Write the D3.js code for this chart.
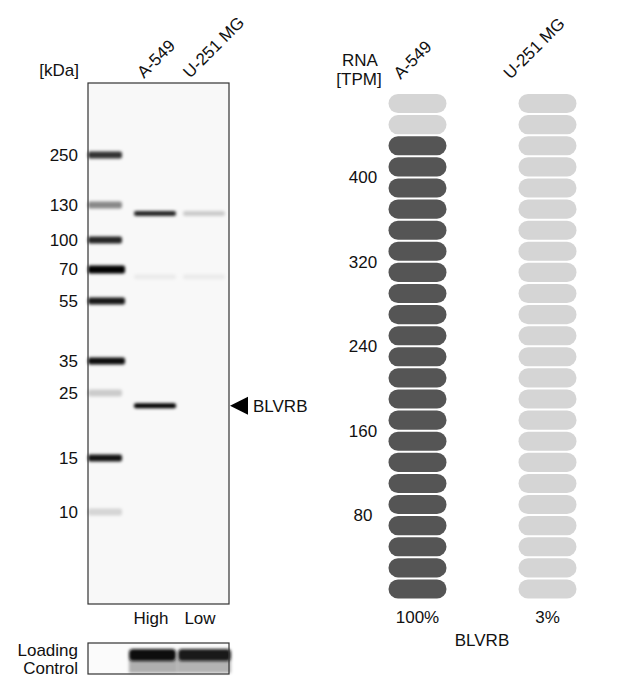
<!DOCTYPE html>
<html><head><meta charset="utf-8">
<script src="https://cdn.jsdelivr.net/npm/d3@7"></script>
<style>
html,body{margin:0;padding:0;background:#fff;}
text{font-family:Arial,"Liberation Sans",sans-serif;fill:#111;}
</style></head>
<body>
<svg id="c" width="640" height="679"></svg>
<script>
// ---------- data ----------
const markerKDa = [250, 130, 100, 70, 55, 35, 25, 15, 10];
const markerIntensity = [0.8, 0.45, 0.85, 1.0, 0.9, 0.95, 0.18, 0.92, 0.14];
const gelLanes = ["ladder", "A-549", "U-251 MG"];
const laneLevels = ["High", "Low"];
const a549BandKDa = [122, 22.6, 66];
const a549BandIntensity = [0.85, 1.0, 0.05];
const u251BandKDa = [122, 66];
const u251BandIntensity = [0.18, 0.05];
const loadingIntensity = [1.0, 0.95];
const targetName = "BLVRB";
const targetKDa = 22.6;

const cellLines = ["A-549", "U-251 MG"];
const rnaTPM = [445, 13];
const rnaPercent = ["100%", "3%"];
const rnaTicks = [80, 160, 240, 320, 400];
const rnaMax = 480;
const pillStep = 20;

// ---------- setup ----------
const svg = d3.select("#c");
const defs = svg.append("defs");
defs.append("filter").attr("id","blur").attr("x","-20%").attr("y","-100%").attr("width","140%").attr("height","300%")
  .append("feGaussianBlur").attr("stdDeviation","1.4");
defs.append("filter").attr("id","blur2").attr("x","-20%").attr("y","-100%").attr("width","140%").attr("height","300%")
  .append("feGaussianBlur").attr("stdDeviation","1.8");

const FS = 17;

// ---------- western blot ----------
const gel = {x0:88, x1:229, y0:83, y1:604};
const yK = d3.scaleLog().domain(markerKDa).range([155,205,240,269,301,361,393,458,512]);
const xLane = d3.scalePoint().domain(gelLanes).range([106, 204]);

svg.append("rect").attr("x",gel.x0).attr("y",gel.y0).attr("width",gel.x1-gel.x0).attr("height",gel.y1-gel.y0)
  .attr("fill","#f8f8f8");

const bandG = svg.append("g").attr("filter","url(#blur)");
// ladder
bandG.selectAll("rect.m").data(markerKDa).join("rect")
  .attr("x", xLane("ladder")-18).attr("width", d => 34 + (d>=35&&d<=70?3:0))
  .attr("y", d => yK(d)-3.5).attr("height", (d,i)=> markerIntensity[i]>0.95?8:7)
  .attr("rx",2)
  .attr("fill","#000").attr("fill-opacity",(d,i)=>markerIntensity[i]);
// sample lanes
const sampleBands = [
  ...a549BandKDa.map((k,i)=>({lane:"A-549", k, v:a549BandIntensity[i]})),
  ...u251BandKDa.map((k,i)=>({lane:"U-251 MG", k, v:u251BandIntensity[i]}))
];
bandG.selectAll("rect.s").data(sampleBands).join("rect")
  .attr("x", d => xLane(d.lane)-21).attr("width", 42)
  .attr("y", d => yK(d.k)-2.5).attr("height", 5).attr("rx",2)
  .attr("fill","#000").attr("fill-opacity", d=>d.v);

svg.append("rect").attr("x",gel.x0).attr("y",gel.y0).attr("width",gel.x1-gel.x0).attr("height",gel.y1-gel.y0)
  .attr("fill","none").attr("stroke","#333").attr("stroke-width",1.2);

// marker labels
svg.selectAll("text.mk").data(markerKDa).join("text")
  .attr("x",78).attr("y",d=>yK(d)+6).attr("text-anchor","end").attr("font-size",FS).text(d=>d);
svg.append("text").attr("x",79).attr("y",76).attr("text-anchor","end").attr("font-size",FS).text("[kDa]");

// lane labels
svg.selectAll("text.ln").data(gelLanes.slice(1)).join("text")
  .attr("transform", (d,i) => `translate(${xLane(d)-(i===0?11:14)},${79}) rotate(-45)`)
  .attr("font-size",FS).text(d=>d);

// High / Low
svg.selectAll("text.lv").data(laneLevels).join("text")
  .attr("x",(d,i)=>xLane(gelLanes[i+1])-4).attr("y",624).attr("text-anchor","middle")
  .attr("font-size",FS).text(d=>d);

// target arrow
const ty = yK(targetKDa);
svg.append("path").attr("d",`M${gel.x1+1},${ty} L${gel.x1+19},${ty-9} L${gel.x1+19},${ty+9} Z`).attr("fill","#000");
svg.append("text").attr("x",253).attr("y",ty+6).attr("font-size",FS).text(targetName);

// loading control
const lc = {y0:643, y1:674};
svg.append("rect").attr("x",gel.x0).attr("y",lc.y0).attr("width",gel.x1-gel.x0).attr("height",lc.y1-lc.y0).attr("fill","#fbfbfb");
const lcG = svg.append("g");
lcG.selectAll("rect.lcs").data(loadingIntensity).join("rect")
  .attr("filter","url(#blur2)")
  .attr("x",(d,i)=> i===0 ? 129 : xLane(gelLanes[2])-27).attr("width",(d,i)=> i===0?48:54)
  .attr("y",659).attr("height",14).attr("fill","#000").attr("fill-opacity",d=>0.3*d);
lcG.selectAll("rect.lcb").data(loadingIntensity).join("rect")
  .attr("filter","url(#blur)")
  .attr("x",(d,i)=> i===0 ? 129 : xLane(gelLanes[2])-26).attr("width",(d,i)=> i===0?47:53)
  .attr("y",649).attr("height",12).attr("rx",4).attr("fill","#0c0c0c").attr("fill-opacity",d=>d);
svg.append("rect").attr("x",gel.x0).attr("y",lc.y0).attr("width",gel.x1-gel.x0).attr("height",lc.y1-lc.y0)
  .attr("fill","none").attr("stroke","#333").attr("stroke-width",1.2);
svg.append("text").attr("x",78).attr("y",656).attr("text-anchor","end").attr("font-size",FS).text("Loading");
svg.append("text").attr("x",78).attr("y",674).attr("text-anchor","end").attr("font-size",FS).text("Control");

// ---------- RNA ----------
const yR = d3.scaleLinear().domain([0, rnaMax]).range([599.5, 93]);
const xR = d3.scalePoint().domain(cellLines).range([417.5, 547.5]);
const pillW = 58, pillGap = 2;
const pills = [];
cellLines.forEach((c,ci)=>{
  for(let v=0; v<rnaMax; v+=pillStep){
    pills.push({c, v, on: rnaTPM[ci] >= v+pillStep});
  }
});
svg.selectAll("rect.pill").data(pills).join("rect")
  .attr("x",d=>xR(d.c)-pillW/2).attr("width",pillW)
  .attr("y",d=>yR(d.v+pillStep)+pillGap/2).attr("height",d=>yR(d.v)-yR(d.v+pillStep)-pillGap)
  .attr("rx",9.5).attr("ry",9.5)
  .attr("fill",d=>d.on?"#555555":"#d5d5d5");

svg.selectAll("text.rt").data(rnaTicks).join("text")
  .attr("x",363).attr("y",d=>yR(d)+6).attr("text-anchor","middle").attr("font-size",FS).text(d=>d);
svg.append("text").attr("x",360).attr("y",66).attr("text-anchor","middle").attr("font-size",FS).text("RNA");
svg.append("text").attr("x",359).attr("y",85).attr("text-anchor","middle").attr("font-size",FS).text("[TPM]");
svg.selectAll("text.rl").data(cellLines).join("text")
  .attr("transform",(d,i)=>`translate(${xR(d)-(i===0?17:37)},${80}) rotate(-45)`)
  .attr("font-size",FS).text(d=>d);
svg.selectAll("text.pc").data(rnaPercent).join("text")
  .attr("x",(d,i)=>xR(cellLines[i])).attr("y",623).attr("text-anchor","middle").attr("font-size",FS).text(d=>d);
svg.append("text").attr("x",482).attr("y",646).attr("text-anchor","middle").attr("font-size",FS).text(targetName);
</script>
</body></html>
